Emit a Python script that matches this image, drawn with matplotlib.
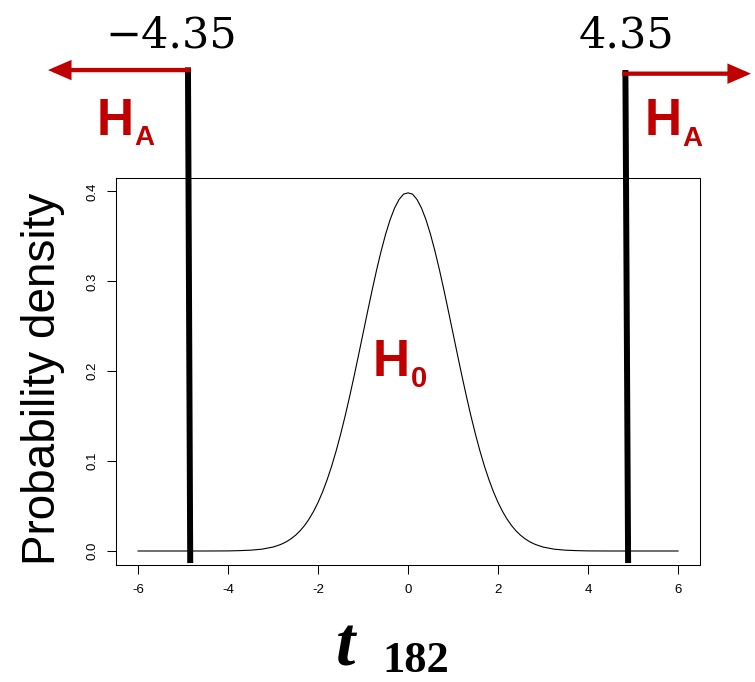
import numpy as np
import matplotlib
matplotlib.use("Agg")
import matplotlib.pyplot as plt

# t(182) density, values
t_x = np.concatenate([np.arange(-6, -4.1, 0.5), np.arange(-4, -3.1, 0.25), np.arange(-3, 3.05, 0.1),
                      np.arange(3.25, 4.01, 0.25), np.arange(4.5, 6.01, 0.5)])
density = [0.0, 0.0, 0.0, 0.0,
           0.0001, 0.0004, 0.0009, 0.0020,
           0.0044, 0.0060, 0.0079, 0.0104, 0.0136, 0.0175, 0.0224, 0.0283, 0.0355, 0.0440,
           0.0540, 0.0656, 0.0790, 0.0940, 0.1109, 0.1295, 0.1497, 0.1714, 0.1942, 0.2179,
           0.2420, 0.2661, 0.2897, 0.3123, 0.3332, 0.3521, 0.3683, 0.3814, 0.3910, 0.3970,
           0.3984,
           0.3970, 0.3910, 0.3814, 0.3683, 0.3521, 0.3332, 0.3123, 0.2897, 0.2661, 0.2420,
           0.2179, 0.1942, 0.1714, 0.1497, 0.1295, 0.1109, 0.0940, 0.0790, 0.0656, 0.0540,
           0.0440, 0.0355, 0.0283, 0.0224, 0.0175, 0.0136, 0.0104, 0.0079, 0.0060, 0.0044,
           0.0020, 0.0009, 0.0004, 0.0001,
           0.0, 0.0, 0.0, 0.0]

x_ticks = [-6, -4, -2, 0, 2, 4, 6]
x_ticklabels = ["-6", "-4", "-2", "0", "2", "4", "6"]
y_ticks = [0.0, 0.1, 0.2, 0.3, 0.4]
y_ticklabels = ["0.0", "0.1", "0.2", "0.3", "0.4"]

# critical lines (drawn position) and their labels
crit_top_x = [-4.89, 4.83]
crit_bottom_x = [-4.84, 4.89]
crit_top_y = [0.538, 0.535]
crit_bottom_y = -0.0134
crit_labels = ["\u22124.35", "4.35"]
arrow_start_x = [-4.83, 4.76]
arrow_tip_x = [-8.0, 7.62]
arrow_y = [0.535, 0.531]

red = "#C00000"

fig = plt.figure(figsize=(7.55, 6.82), dpi=100)
ax = fig.add_axes([0.1542, 0.171, 0.7725, 0.5673])

ax.plot(t_x, density, color="black", lw=0.8)
ax.set_xlim(-6.48, 6.48)
ax.set_ylim(-0.016, 0.4144)

ax.set_xticks(x_ticks)
ax.set_xticklabels(x_ticklabels, family="Liberation Sans", fontsize=9.5)
ax.set_yticks(y_ticks)
ax.set_yticklabels(y_ticklabels, family="Liberation Sans", fontsize=9.5, rotation=90, va="center")
ax.tick_params(axis="x", length=6.5, width=0.75, pad=7)
ax.tick_params(axis="y", length=6.5, width=0.75, pad=6.5)
for s in ax.spines.values():
    s.set_linewidth(0.75)

for i in range(2):
    ax.plot([crit_top_x[i], crit_bottom_x[i]], [crit_top_y[i], crit_bottom_y],
            color="black", lw=4.3, clip_on=False, solid_capstyle="butt")
    ax.annotate("", xy=(arrow_tip_x[i], arrow_y[i]), xytext=(arrow_start_x[i], arrow_y[i]),
                arrowprops=dict(arrowstyle="-|>,head_length=1.15,head_width=0.5", mutation_scale=10,
                                color=red, lw=3.1, shrinkA=0, shrinkB=0, joinstyle="miter",
                                capstyle="butt"),
                annotation_clip=False)

W, H = 755, 682
def px(x, y):
    return x / W, 1 - y / H

fig.text(*px(171, 47), crit_labels[0], ha="center", va="baseline", family="DejaVu Serif", fontsize=31)
fig.text(*px(627, 47), crit_labels[1], ha="center", va="baseline", family="DejaVu Serif", fontsize=31)

hfont = dict(family="Liberation Sans", weight="bold", color=red, va="baseline", ha="left")
fig.text(*px(97, 135), "H", fontsize=37, **hfont)
fig.text(*px(134, 145), "A", fontsize=20, **hfont)
fig.text(*px(645, 135), "H", fontsize=37, **hfont)
fig.text(*px(682, 146), "A", fontsize=20, **hfont)
fig.text(*px(373, 376), "H", fontsize=37, **hfont)
fig.text(*px(411, 387), "0", fontsize=21, **hfont)

fig.text(*px(43, 379), "Probability density", rotation=90, ha="center", va="center",
         family="Liberation Sans", fontsize=33)

fig.text(*px(336, 666), "t", ha="left", va="baseline", family="Liberation Serif",
         weight="bold", style="italic", fontsize=50)
fig.text(*px(382, 672), "182", ha="left", va="baseline", family="Liberation Serif",
         weight="bold", fontsize=32)

fig.savefig("out.png", dpi=100)
